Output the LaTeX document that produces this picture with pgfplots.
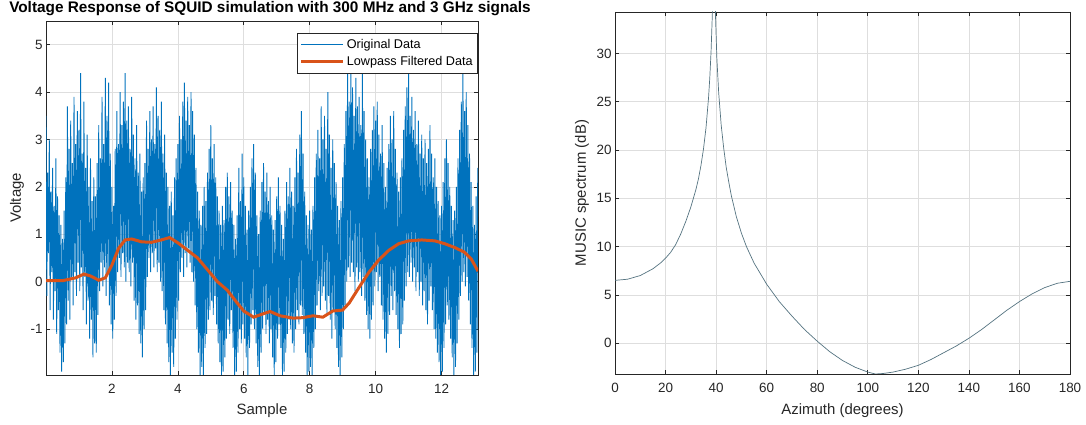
\documentclass[border=0pt]{standalone}
\usepackage{fontspec}
\setmainfont{Liberation Sans}
\usepackage{pgfplots}
\pgfplotsset{compat=1.18}
\usepackage{pgfplotstable}
\definecolor{mblue}{rgb}{0,0.447,0.741}
\definecolor{morange}{rgb}{0.850,0.325,0.098}
\definecolor{maxis}{rgb}{0.15,0.15,0.15}
\definecolor{mgrid}{rgb}{0.87,0.87,0.87}
\definecolor{mspec}{rgb}{0.33,0.45,0.50}

% raw voltage samples, one every 250 samples (x in units of 10^4 samples)
\pgfplotstableread[row sep=\\]{
y\\
3.5\\-0.3\\2.3\\0.6\\3.0\\-0.6\\1.9\\0.2\\2.4\\-0.8\\1.6\\-0.2\\2.6\\-1.1\\1.8\\-0.6\\1.4\\-1.5\\1.2\\-1.9\\
0.9\\-1.7\\1.5\\-1.3\\2.2\\-0.9\\3.7\\-0.4\\2.8\\-0.8\\3.4\\0.1\\2.5\\-0.5\\3.9\\0.2\\2.9\\-0.3\\3.6\\0.4\\
3.2\\-0.2\\4.4\\0.3\\2.7\\-0.6\\3.8\\0.1\\2.4\\-0.9\\3.1\\-0.4\\2.0\\-1.2\\2.6\\-0.8\\1.7\\-1.6\\2.2\\-1.3\\
1.8\\-1.5\\2.5\\-0.7\\3.3\\-0.2\\2.6\\0.4\\3.9\\-0.1\\2.9\\0.3\\4.3\\-0.3\\3.5\\0.2\\4.2\\-0.5\\2.7\\-0.9\\
2.0\\-1.2\\1.6\\-0.8\\2.8\\-0.3\\3.6\\0.2\\2.9\\0.5\\4.0\\0.1\\3.3\\0.6\\3.8\\0.3\\4.4\\0.0\\3.4\\0.4\\
3.7\\0.2\\2.8\\-0.1\\3.9\\0.4\\3.1\\-0.4\\2.6\\-0.8\\3.3\\-0.5\\2.3\\-1.1\\2.7\\-1.3\\1.9\\-1.6\\2.2\\-1.0\\
2.5\\-0.6\\3.4\\0.1\\2.8\\0.5\\3.6\\0.2\\3.0\\0.6\\3.7\\0.3\\2.9\\0.7\\4.1\\0.2\\3.5\\0.4\\3.2\\0.0\\
3.8\\-0.2\\2.7\\-0.6\\3.1\\-0.9\\2.3\\-1.3\\2.0\\-1.7\\1.6\\-1.97\\1.9\\-1.5\\1.4\\-1.8\\2.2\\-1.2\\2.6\\-0.8\\
2.9\\-0.4\\3.5\\0.2\\3.0\\0.5\\3.8\\0.1\\4.2\\0.6\\3.4\\0.3\\3.9\\0.7\\3.3\\0.4\\4.0\\0.2\\3.6\\0.0\\
3.1\\-0.5\\2.4\\-1.0\\1.9\\-1.5\\1.5\\-1.97\\1.2\\-1.8\\1.6\\-1.97\\2.0\\-1.4\\1.7\\-1.1\\2.3\\-0.8\\2.8\\-0.6\\
3.3\\-0.4\\2.6\\-0.7\\2.9\\-0.3\\2.2\\-0.9\\1.8\\-1.3\\1.5\\-1.7\\1.2\\-1.97\\1.6\\-1.9\\1.3\\-1.6\\2.0\\-1.2\\
2.3\\-0.8\\1.8\\-1.1\\2.1\\-0.6\\1.5\\-1.4\\1.2\\-1.97\\0.9\\-1.9\\1.4\\-1.5\\2.4\\-1.0\\1.7\\-1.3\\2.7\\-0.9\\
2.2\\-1.2\\1.6\\-1.6\\1.1\\-1.97\\1.5\\-1.4\\2.0\\-0.9\\2.6\\-0.6\\2.9\\-1.0\\2.3\\-1.3\\1.4\\-1.8\\1.0\\-1.97\\
1.5\\-1.5\\2.1\\-1.0\\2.5\\-0.7\\1.9\\-1.1\\2.3\\-0.8\\1.7\\-1.3\\2.0\\-1.0\\1.4\\-1.6\\1.1\\-1.97\\1.3\\-1.7\\
1.8\\-1.2\\2.2\\-0.9\\1.6\\-1.4\\1.2\\-1.97\\0.9\\-1.9\\1.5\\-1.5\\2.1\\-1.1\\1.8\\-0.8\\2.4\\-1.0\\1.9\\-1.3\\
1.6\\-1.5\\2.2\\-1.0\\2.8\\-0.6\\2.3\\-0.9\\3.1\\-0.5\\3.6\\-0.7\\2.7\\-1.1\\1.9\\-1.5\\1.4\\-1.97\\1.2\\-1.9\\
1.5\\-1.8\\1.1\\-1.97\\1.6\\-1.4\\2.2\\-1.0\\2.7\\-0.5\\3.2\\-0.2\\2.6\\-0.6\\3.7\\-0.3\\3.0\\-0.1\\3.5\\-0.4\\
2.8\\-0.7\\4.0\\-0.3\\3.1\\-0.8\\2.4\\-1.2\\3.0\\-0.6\\2.5\\-1.0\\2.1\\-1.4\\1.6\\-1.8\\1.3\\-1.97\\1.7\\-1.6\\
2.2\\-1.0\\2.9\\-0.5\\3.6\\0.0\\4.4\\0.3\\3.8\\0.1\\4.7\\0.4\\4.1\\0.2\\3.5\\-0.2\\4.3\\0.3\\3.7\\0.0\\
3.9\\0.2\\3.3\\-0.3\\4.4\\0.1\\3.6\\-0.4\\3.0\\-0.7\\2.6\\-1.0\\2.2\\-1.2\\2.8\\-0.8\\3.2\\-0.5\\3.7\\-0.1\\
3.4\\0.2\\3.8\\-0.2\\3.1\\0.1\\2.7\\-0.5\\3.3\\-0.8\\2.5\\-1.2\\2.0\\-1.5\\2.4\\-1.1\\2.9\\-0.7\\3.5\\-0.3\\
3.0\\-0.6\\3.6\\-0.2\\2.8\\-0.7\\2.3\\-1.0\\1.9\\-1.4\\2.2\\-1.1\\2.6\\-0.9\\3.2\\-0.4\\3.7\\-0.1\\4.1\\0.2\\
4.4\\0.1\\3.5\\0.4\\3.9\\0.0\\3.2\\0.3\\3.6\\-0.2\\2.9\\0.2\\3.4\\-0.3\\2.7\\0.0\\3.1\\-0.5\\2.6\\-0.2\\
3.0\\-0.6\\2.5\\-0.9\\2.8\\-0.4\\3.3\\-0.1\\2.7\\-0.6\\2.2\\-1.0\\2.6\\-1.2\\2.0\\-1.5\\1.7\\-1.7\\1.4\\-1.97\\
1.6\\-1.9\\2.1\\-1.4\\2.6\\-0.9\\3.0\\-0.5\\2.5\\-0.8\\2.0\\-1.2\\1.6\\-1.6\\1.3\\-1.97\\1.5\\-1.8\\2.0\\-1.3\\
2.6\\-0.8\\3.2\\-0.3\\3.8\\0.0\\4.4\\0.2\\3.6\\-0.1\\4.0\\0.1\\3.3\\-0.4\\2.7\\-0.9\\2.1\\-1.4\\1.6\\-1.97\\
1.2\\-1.9\\1.8\\-1.5\\2.4\\
}\rawdata

\pgfplotstableread[row sep=\\]{
x y\\
0 0.02\\ 0.5 0.02\\ 0.9 0.08\\ 1.15 0.16\\ 1.35 0.12\\ 1.6 0.03\\ 1.8 0.08\\ 2.0 0.35\\ 2.2 0.7\\ 2.4 0.88\\
2.6 0.9\\ 2.9 0.84\\ 3.2 0.83\\ 3.5 0.88\\ 3.75 0.93\\ 4.0 0.82\\ 4.3 0.66\\ 4.6 0.5\\ 4.9 0.25\\ 5.2 0.0\\
5.5 -0.18\\ 5.8 -0.45\\ 6.0 -0.62\\ 6.3 -0.75\\ 6.5 -0.7\\ 6.8 -0.63\\ 7.1 -0.72\\ 7.5 -0.77\\ 7.8 -0.76\\ 8.1 -0.72\\
8.4 -0.75\\ 8.7 -0.62\\ 9.0 -0.6\\ 9.2 -0.45\\ 9.5 -0.12\\ 9.8 0.2\\ 10.1 0.46\\ 10.4 0.66\\ 10.7 0.8\\ 11.0 0.86\\
11.4 0.88\\ 11.8 0.86\\ 12.1 0.8\\ 12.4 0.72\\ 12.7 0.62\\ 12.9 0.48\\ 13.1072 0.22\\
}\filtdata

\pgfplotstableread[row sep=\\]{
x y\\
0 6.5\\ 5 6.62\\ 10 7.0\\ 15 7.7\\ 18 8.3\\ 20 8.8\\ 22 9.4\\ 24 10.2\\ 26 11.3\\ 28 12.6\\
30 14.1\\ 32 15.9\\ 33 17.0\\ 34 18.4\\ 35 20.1\\ 36 22.3\\ 37 25.4\\ 37.5 27.5\\ 38 30.2\\ 38.5 34\\
38.9 40\\ 39.3 40\\ 39.8 33.5\\ 40.3 29.5\\ 41 26\\ 42 22.6\\ 43 20.2\\ 44 18.2\\ 45 16.7\\ 46 15.3\\
48 13.1\\ 50 11.4\\ 52 10.0\\ 55 8.3\\ 60 6.1\\ 65 4.3\\ 70 2.8\\ 75 1.4\\ 80 0.2\\ 85 -0.9\\
90 -1.8\\ 95 -2.5\\ 100 -3.0\\ 103 -3.2\\ 106 -3.15\\ 110 -3.0\\ 115 -2.7\\ 120 -2.3\\ 125 -1.7\\ 130 -1.0\\
135 -0.3\\ 140 0.5\\ 145 1.4\\ 150 2.4\\ 155 3.4\\ 160 4.3\\ 165 5.1\\ 170 5.75\\ 175 6.2\\ 180 6.4\\
}\specdata

\pgfplotsset{
  mstyle/.style={
    scale only axis,
    axis line style={maxis, line width=0.6bp},
    every tick/.style={maxis, line width=0.6bp},
    major tick length=4bp,
    grid=major,
    major grid style={mgrid, line width=0.6bp},
    ticklabel style={font=\fontsize{13.5}{14}\selectfont, text=maxis},
    label style={font=\fontsize{15}{16}\selectfont, text=maxis},
    /pgf/number format/assume math mode=true,
    scaled ticks=false,
    xticklabel style={yshift=-6bp},
  }
}

\begin{document}
\begin{tikzpicture}
\useasboundingbox (0,0) rectangle (1086bp,425bp);

\begin{axis}[mstyle,
  at={(46bp,50bp)}, anchor=south west,
  width=432bp, height=354bp,
  xmin=0.0001, xmax=13.1072,
  ymin=-1.97, ymax=5.5,
  xtick={2,4,6,8,10,12},
  ytick={-1,0,1,2,3,4,5},
  xlabel={Sample},
  ylabel={Voltage},
  xlabel style={at={(axis description cs:0.5,-0.102)}, anchor=center},
  ylabel style={at={(axis description cs:-0.067,0.5)}, anchor=center},
  title={Voltage Response of SQUID simulation with 300 MHz and 3 GHz signals},
  title style={at={(axis description cs:0.5185,1.034)}, anchor=center, yshift=-6pt, font=\bfseries\fontsize{15.4}{16}\selectfont, text=black},
  legend style={at={(axis description cs:1.0,0.966)}, anchor=north east,
    font=\fontsize{12.7}{14}\selectfont, draw=maxis, line width=0.6bp, fill=white,
    inner xsep=3bp, inner ysep=4bp, row sep=2.5bp},
  legend cell align=left,
  legend image code/.code={\draw[#1] (0bp,0bp) -- (42bp,0bp);},
]
\addplot[mblue, line width=0.9bp] table[x expr=\coordindex*0.025, y=y] {\rawdata};
\addlegendentry{Original Data}
\addplot[morange, line width=3bp] table[x=x, y=y] {\filtdata};
\addlegendentry{Lowpass Filtered Data}
\node[anchor=east, font=\fontsize{12.5}{13}\selectfont, text=maxis] at (axis description cs:1.005,-0.1) {×10\textsuperscript{4}};
\end{axis}

\begin{axis}[mstyle,
  at={(615bp,51bp)}, anchor=south west,
  width=455bp, height=362bp,
  xmin=0, xmax=180,
  ymin=-3.2, ymax=34.3,
  xtick={0,20,...,180},
  ytick={0,5,...,30},
  xlabel={Azimuth (degrees)},
  ylabel={MUSIC spectrum (dB)},
  xlabel style={at={(axis description cs:0.5,-0.102)}, anchor=center},
  ylabel style={at={(axis description cs:-0.0725,0.5)}, anchor=center},
]
\addplot[mspec, line width=0.7bp] table[x=x, y=y] {\specdata};
\end{axis}
\end{tikzpicture}
\end{document}
